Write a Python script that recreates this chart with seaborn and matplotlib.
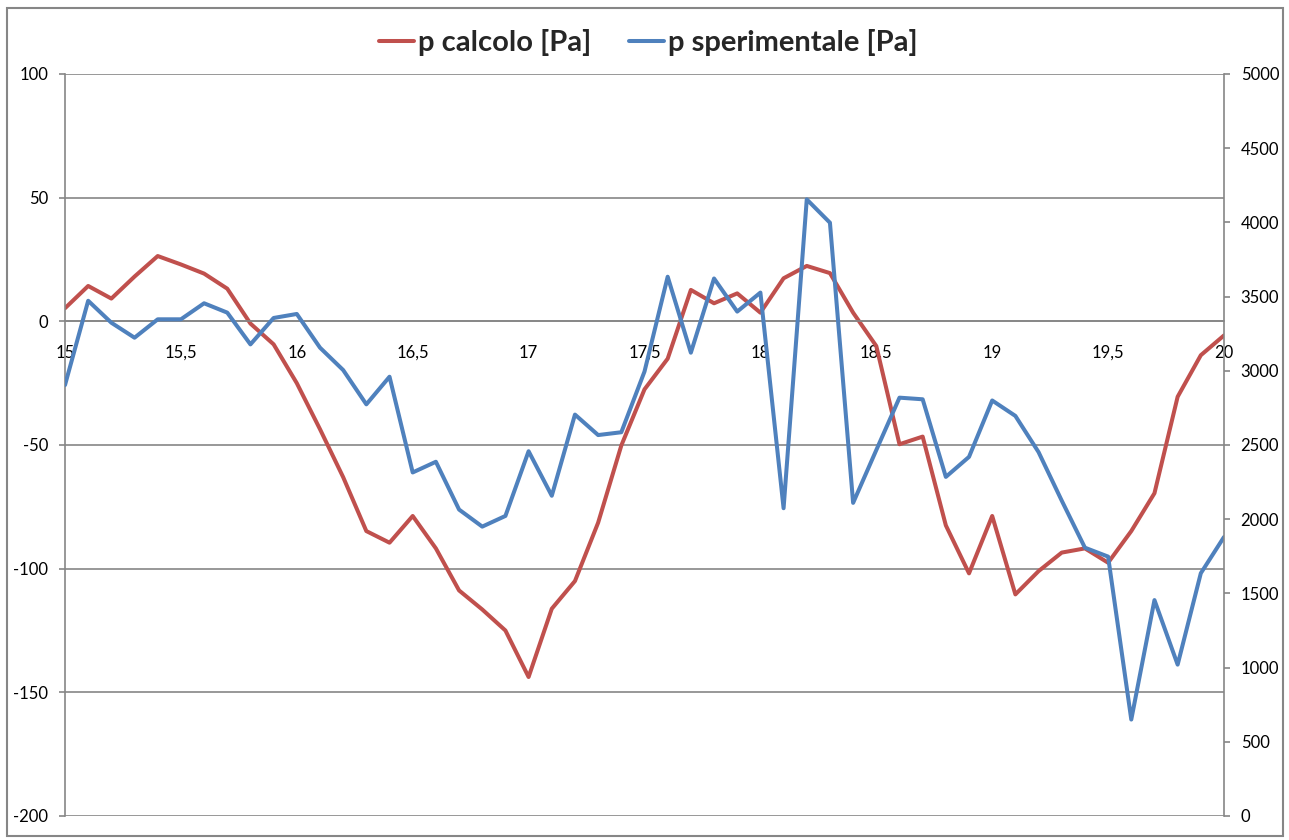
import matplotlib
matplotlib.use("Agg")
import matplotlib.pyplot as plt
from matplotlib.patches import Rectangle
import pandas as pd
import seaborn as sns

# DATI
tempo = [15.0, 15.1, 15.2, 15.3, 15.4, 15.5, 15.6, 15.7, 15.8, 15.9,
         16.0, 16.1, 16.2, 16.3, 16.4, 16.5, 16.6, 16.7, 16.8, 16.9,
         17.0, 17.1, 17.2, 17.3, 17.4, 17.5, 17.6, 17.7, 17.8, 17.9,
         18.0, 18.1, 18.2, 18.3, 18.4, 18.5, 18.6, 18.7, 18.8, 18.9,
         19.0, 19.1, 19.2, 19.3, 19.4, 19.5, 19.6, 19.7, 19.8, 19.9,
         20.0]

p_calcolo = [5.3, 14.3, 9.2, 18.1, 26.4, 23.0, 19.3, 13.2, -0.9, -9.3,
             -25.0, -43.6, -63.0, -84.8, -89.5, -78.7, -91.8, -108.8, -116.5, -125.0,
             -143.8, -116.2, -105.0, -81.4, -50.2, -27.5, -15.1, 12.7, 7.3, 11.3,
             3.5, 17.4, 22.4, 19.5, 3.5, -10.0, -49.7, -46.6, -82.5, -101.9,
             -78.7, -110.4, -101.0, -93.5, -91.8, -97.6, -84.8, -69.5, -30.5, -13.7,
             -5.7]

p_sperimentale = [2904, 3472, 3324, 3223, 3347, 3347, 3455, 3392, 3178, 3356,
                  3383, 3156, 3005, 2774, 2960, 2315, 2387, 2065, 1950, 2022,
                  2458, 2158, 2705, 2567, 2586, 2995, 3634, 3122, 3622, 3399,
                  3527, 2074, 4155, 3998, 2110, 2466, 2819, 2808, 2285, 2420,
                  2800, 2696, 2452, 2125, 1808, 1748, 650, 1455, 1020, 1636,
                  1880]

x_ticks = [15, 15.5, 16, 16.5, 17, 17.5, 18, 18.5, 19, 19.5, 20]
x_labels = ["15", "15,5", "16", "16,5", "17", "17,5", "18", "18,5", "19", "19,5", "20"]
y_left_ticks = [-200, -150, -100, -50, 0, 50, 100]
y_right_ticks = [0, 500, 1000, 1500, 2000, 2500, 3000, 3500, 4000, 4500, 5000]

ROSSO = "#C0504D"
BLU = "#4F81BD"
GRIGIO = "#868686"

sns.set_style("white")
plt.rcParams["font.family"] = ["Lato", "DejaVu Sans"]
plt.rcParams["axes.unicode_minus"] = False

df = pd.DataFrame({"t": tempo, "calc": p_calcolo, "sper": p_sperimentale})

fig = plt.figure(figsize=(12.89, 8.40), dpi=100)
ax = fig.add_axes([65 / 1289, 24 / 840, (1224 - 65) / 1289, (816 - 74) / 840])
ax2 = ax.twinx()

sns.lineplot(data=df, x="t", y="calc", ax=ax, color=ROSSO, linewidth=2.9,
             label="p calcolo [Pa]", legend=False)
sns.lineplot(data=df, x="t", y="sper", ax=ax2, color=BLU, linewidth=2.9,
             label="p sperimentale [Pa]", legend=False)

ax.set_xlim(15, 20)
ax.set_ylim(-200, 100)
ax2.set_ylim(0, 5000)

# griglia orizzontale
ax.set_yticks(y_left_ticks)
ax.set_yticklabels([str(v) for v in y_left_ticks])
ax.yaxis.grid(True, color=GRIGIO, linewidth=1.2)
ax.xaxis.grid(False)
ax.set_axisbelow(True)

ax2.set_yticks(y_right_ticks)
ax2.set_yticklabels([str(v) for v in y_right_ticks])

# asse x che incrocia in 0
ax.spines["bottom"].set_position(("data", 0))
ax.set_xticks(x_ticks)
ax.set_xticklabels(x_labels)
ax.spines["top"].set_visible(False)
ax2.spines["top"].set_visible(False)
ax2.spines["bottom"].set_visible(False)
ax2.spines["left"].set_visible(False)
ax.spines["right"].set_visible(False)
for sp in [ax.spines["bottom"], ax.spines["left"], ax2.spines["right"]]:
    sp.set_color(GRIGIO)
    sp.set_linewidth(1.2)

ax.tick_params(axis="x", direction="out", length=4, width=1.2, color=GRIGIO,
               pad=13, labelsize=12, labelcolor="black")
ax.tick_params(axis="y", direction="out", length=4, width=1.2, color=GRIGIO,
               pad=8, labelsize=12, labelcolor="black")
ax2.tick_params(axis="y", direction="out", length=4, width=1.2, color=GRIGIO,
                pad=8, labelsize=12, labelcolor="black")
ax.set_xlabel("")
ax.set_ylabel("")
ax2.set_ylabel("")

h1, l1 = ax.get_legend_handles_labels()
h2, l2 = ax2.get_legend_handles_labels()
fig.legend(h1 + h2, l1 + l2, loc="center", bbox_to_anchor=(0.503, 0.949), ncol=2,
           frameon=False, handlelength=1.2, handletextpad=0.12, columnspacing=1.3,
           prop={"weight": "bold", "size": 21})

# cornice del grafico
fig.patches.append(Rectangle((7 / 1289, 4 / 840), 1276 / 1289, 828 / 840,
                             transform=fig.transFigure, fill=False,
                             edgecolor=GRIGIO, linewidth=1.5))

fig.savefig("out.png", dpi=100)
